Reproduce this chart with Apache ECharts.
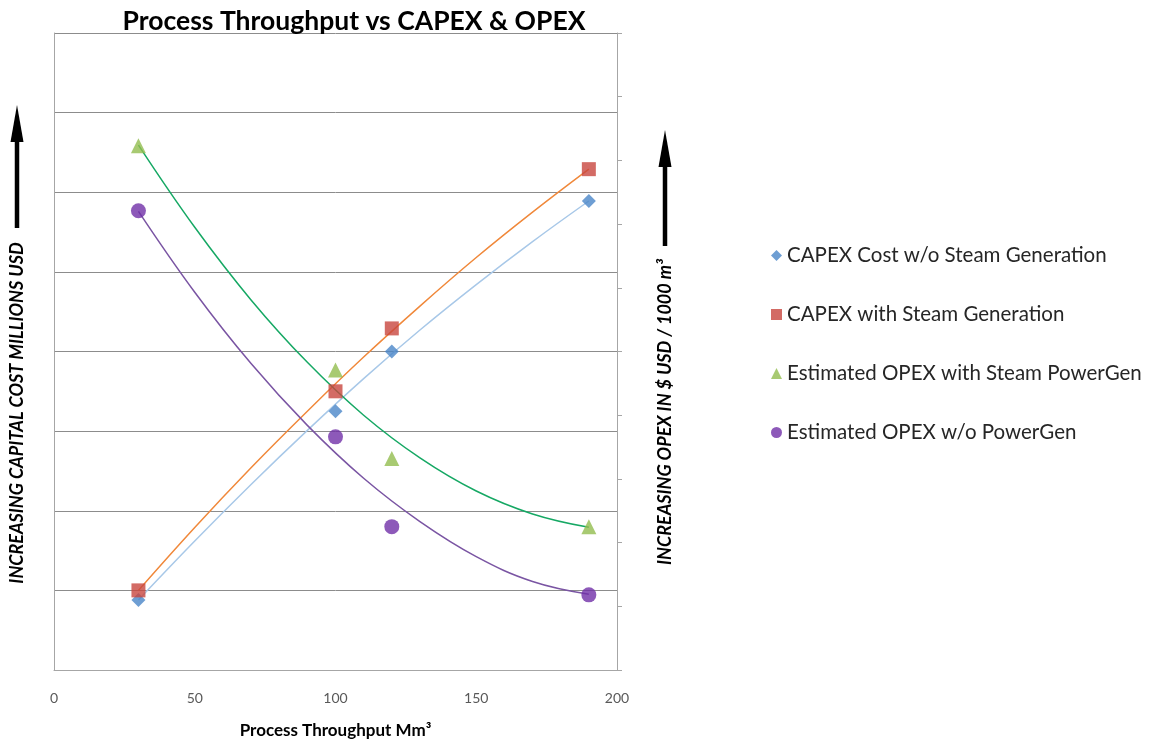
<!DOCTYPE html>
<html>
<head>
<meta charset="utf-8">
<script src="https://cdn.jsdelivr.net/npm/echarts@6/dist/echarts.min.js"></script>
<style>html,body{margin:0;padding:0;background:#fff;overflow:hidden;}#chart{width:1155px;height:744px;}</style>
</head>
<body>
<div id="chart"></div>
<script>
// ---- data ----
const throughput = [30, 100, 120, 190];
const capexNoSteam = [0.88, 3.25, 4.0, 5.89];      // left axis (relative units)
const capexSteam = [1.0, 3.5, 4.29, 6.29];         // left axis
const opexSteamPowerGen = [8.23, 4.71, 3.32, 2.25]; // right axis
const opexNoPowerGen = [7.21, 3.66, 2.25, 1.18];    // right axis

// trendlines
const trendX = [30, 50, 70, 90, 110, 130, 150, 170, 190];
const trendCapexNoSteam = [0.88, 1.62, 2.33, 3.01, 3.66, 4.27, 4.84, 5.38, 5.89];
const trendCapexSteam = [1.0, 1.79, 2.54, 3.25, 3.93, 4.57, 5.18, 5.75, 6.29];
const trendOpexSteam = [8.24, 6.95, 5.81, 4.83, 4.0, 3.33, 2.81, 2.45, 2.24];
const trendOpexNoPower = [7.2, 5.93, 4.81, 3.84, 3.01, 2.33, 1.78, 1.39, 1.19];

const xTicks = [0, 50, 100, 150, 200];

const seriesNames = [
  'CAPEX Cost w/o Steam Generation',
  'CAPEX with Steam Generation',
  'Estimated OPEX with Steam PowerGen',
  'Estimated OPEX w/o PowerGen'
];

function pairs(xs, ys) { return xs.map((x, i) => [x, ys[i]]); }

const FONT = 'Lato';
const chart = echarts.init(document.getElementById('chart'));

const option = {
  backgroundColor: '#ffffff',
  animation: false,
  title: {
    text: 'Process Throughput vs CAPEX & OPEX',
    left: 349, top: 3, textAlign: 'center',
    textStyle: { fontFamily: FONT, fontWeight: 'bold', fontSize: 26.5, color: '#000' }
  },
  legend: {
    orient: 'vertical',
    left: 766, top: 240,
    itemGap: 38,
    itemWidth: 11, itemHeight: 11,
    data: seriesNames,
    textStyle: { fontFamily: FONT, fontSize: 20.5, color: '#262626' }
  },
  grid: { left: 54, right: 538, top: 33, bottom: 60, containLabel: false },
  xAxis: {
    type: 'value', min: xTicks[0], max: xTicks[xTicks.length - 1], interval: 50,
    axisLine: { show: true, lineStyle: { color: '#a6a6a6' } },
    axisTick: { show: false },
    splitLine: { show: false },
    axisLabel: { color: '#595959', fontFamily: FONT, fontSize: 14, margin: 21 },
    name: 'Process Throughput Mm³',
    nameLocation: 'middle', nameGap: 52,
    nameTextStyle: { fontFamily: FONT, fontWeight: 'bold', fontSize: 17, color: '#000' }
  },
  yAxis: [
    {
      type: 'value', min: 0, max: 8, interval: 1,
      axisLine: { show: true, lineStyle: { color: '#a6a6a6' } },
      axisTick: { show: false },
      axisLabel: { show: false },
      splitLine: { show: true, lineStyle: { color: '#8c8c8c', width: 1 } }
    },
    {
      type: 'value', min: 0, max: 10, interval: 1, position: 'right',
      axisLine: { show: true, lineStyle: { color: '#a6a6a6' } },
      axisTick: { show: true, length: 5, inside: false, lineStyle: { color: '#a6a6a6' } },
      axisLabel: { show: false },
      splitLine: { show: false }
    }
  ],
  series: [
    { type: 'line', data: pairs(trendX, trendCapexNoSteam), yAxisIndex: 0, smooth: 0.4, showSymbol: false, lineStyle: { color: '#a8c8e8', width: 1.5 }, z: 2, silent: true },
    { type: 'line', data: pairs(trendX, trendCapexSteam), yAxisIndex: 0, smooth: 0.4, showSymbol: false, lineStyle: { color: '#f0883a', width: 1.5 }, z: 2, silent: true },
    { type: 'line', data: pairs(trendX, trendOpexSteam), yAxisIndex: 1, smooth: 0.4, showSymbol: false, lineStyle: { color: '#16a864', width: 1.5 }, z: 2, silent: true },
    { type: 'line', data: pairs(trendX, trendOpexNoPower), yAxisIndex: 1, smooth: 0.4, showSymbol: false, lineStyle: { color: '#7a55a3', width: 1.5 }, z: 2, silent: true },
    { name: seriesNames[0], type: 'scatter', yAxisIndex: 0, data: pairs(throughput, capexNoSteam), symbol: 'diamond', symbolSize: 14, itemStyle: { color: '#4a86c8' }, z: 5 },
    { name: seriesNames[1], type: 'scatter', yAxisIndex: 0, data: pairs(throughput, capexSteam), symbol: 'rect', symbolSize: 14, itemStyle: { color: '#c8463f' }, z: 5 },
    { name: seriesNames[2], type: 'scatter', yAxisIndex: 1, data: pairs(throughput, opexSteamPowerGen), symbol: 'triangle', symbolSize: 15, itemStyle: { color: '#92bd4f' }, z: 5 },
    { name: seriesNames[3], type: 'scatter', yAxisIndex: 1, data: pairs(throughput, opexNoPowerGen), symbol: 'circle', symbolSize: 15, itemStyle: { color: '#7030a8' }, z: 5 }
  ],
  graphic: [
    // left arrow
    { type: 'line', shape: { x1: 17, y1: 228, x2: 17, y2: 130 }, style: { stroke: '#000', lineWidth: 4.5 } },
    { type: 'polygon', shape: { points: [[17, 105], [10.5, 142], [23.5, 142]] }, style: { fill: '#000' } },
    {
      type: 'text', x: 17, y: 413, rotation: Math.PI / 2,
      style: { text: 'INCREASING CAPITAL COST MILLIONS USD', fontFamily: FONT, fontWeight: 'bold', fontStyle: 'italic', fontSize: 18, fill: '#000', align: 'center', verticalAlign: 'middle' }
    },
    // right arrow
    { type: 'line', shape: { x1: 665, y1: 246, x2: 665, y2: 155 }, style: { stroke: '#000', lineWidth: 4.5 } },
    { type: 'polygon', shape: { points: [[665, 130], [658.5, 167], [671.5, 167]] }, style: { fill: '#000' } },
    {
      type: 'text', x: 665, y: 412, rotation: Math.PI / 2,
      style: { text: 'INCREASING OPEX IN $ USD / 1000 m³', fontFamily: FONT, fontWeight: 'bold', fontStyle: 'italic', fontSize: 18, fill: '#000', align: 'center', verticalAlign: 'middle' }
    }
  ]
};
chart.setOption(option);
</script>
</body>
</html>
